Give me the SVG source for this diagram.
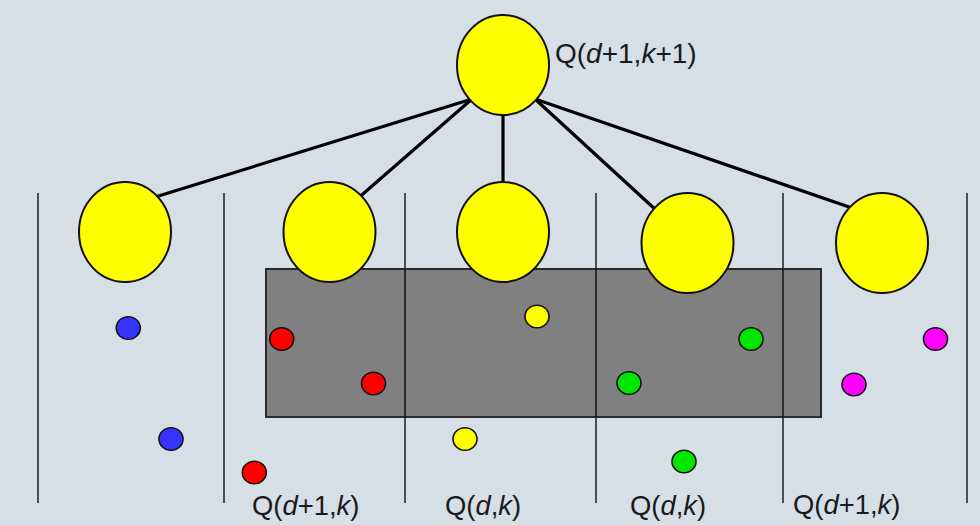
<svg xmlns="http://www.w3.org/2000/svg" width="980" height="525" viewBox="0 0 980 525">
  <style>
    .big { fill: #ffff00; stroke: #111; stroke-width: 2; }
    .dot { stroke: #111; stroke-width: 1.6; }
    .blue { fill: #3535ff; }
    .red { fill: #ff0000; }
    .yel { fill: #ffff00; }
    .grn { fill: #00e600; }
    .mag { fill: #ff00ff; }
    .sep { stroke: #000; stroke-width: 1.3; }
    .edge { stroke: #000; stroke-width: 3.2; stroke-linecap: round; fill: none; }
    .lbl { font-family: "Liberation Sans", Arial, sans-serif; font-size: 27.4px; fill: #1a1a1a; }
    .it { font-style: italic; }
  </style>

  <rect x="0" y="0" width="980" height="525" fill="#d6dfe6"/>

  <!-- column separators -->
  <g id="separators">
    <line class="sep" x1="38" y1="193" x2="38" y2="503"/>
    <line class="sep" x1="224" y1="193" x2="224" y2="503"/>
    <line class="sep" x1="405" y1="193" x2="405" y2="503"/>
    <line class="sep" x1="596" y1="193" x2="596" y2="503"/>
    <line class="sep" x1="783" y1="193" x2="783" y2="503"/>
    <line class="sep" x1="967" y1="193" x2="967" y2="503"/>
  </g>

  <!-- shaded query band -->
  <rect id="band" x="266" y="269" width="555" height="148" fill="#808080" stroke="#2a2a2a" stroke-width="2"/>
  <!-- separators remain visible across the band -->
  <g id="separators-over">
    <line class="sep" x1="405" y1="269" x2="405" y2="417"/>
    <line class="sep" x1="596" y1="269" x2="596" y2="417"/>
    <line class="sep" x1="783" y1="269" x2="783" y2="417"/>
  </g>

  <!-- tree edges -->
  <g id="connectors">
    <line class="edge" x1="472" y1="99" x2="152" y2="198"/>
    <line class="edge" x1="472" y1="99" x2="356" y2="200"/>
    <line class="edge" x1="503" y1="110" x2="503" y2="186"/>
    <line class="edge" x1="535" y1="99" x2="657" y2="211"/>
    <line class="edge" x1="535" y1="99" x2="852" y2="208"/>
  </g>

  <!-- root node -->
  <g id="root">
    <ellipse class="big" cx="503" cy="65" rx="46" ry="50"/>
    <text class="lbl" x="555" y="63" style="font-size:28px">Q(<tspan class="it">d</tspan>+1,<tspan class="it">k</tspan>+1)</text>
  </g>

  <!-- child nodes -->
  <g id="child1"><ellipse class="big" cx="125" cy="232" rx="46" ry="50"/></g>
  <g id="child2"><ellipse class="big" cx="329.5" cy="232" rx="46" ry="50"/></g>
  <g id="child3"><ellipse class="big" cx="503" cy="232" rx="46" ry="50"/></g>
  <g id="child4"><ellipse class="big" cx="687.5" cy="243" rx="46" ry="50"/></g>
  <g id="child5"><ellipse class="big" cx="882" cy="243" rx="46" ry="50"/></g>

  <!-- points -->
  <g id="points">
    <ellipse class="dot blue" cx="128.3" cy="328" rx="12" ry="11.3"/>
    <ellipse class="dot blue" cx="171" cy="439" rx="12" ry="11.3"/>
    <ellipse class="dot red" cx="281.7" cy="339" rx="12" ry="11.3"/>
    <ellipse class="dot red" cx="373.5" cy="383.5" rx="12" ry="11.3"/>
    <ellipse class="dot red" cx="254.3" cy="472.5" rx="12" ry="11.3"/>
    <ellipse class="dot yel" cx="537" cy="316.5" rx="12" ry="11.3"/>
    <ellipse class="dot yel" cx="465" cy="439" rx="12" ry="11.3"/>
    <ellipse class="dot grn" cx="751" cy="339" rx="12" ry="11.3"/>
    <ellipse class="dot grn" cx="629" cy="383" rx="12" ry="11.3"/>
    <ellipse class="dot grn" cx="684" cy="461.5" rx="12" ry="11.3"/>
    <ellipse class="dot mag" cx="935.5" cy="339" rx="12" ry="11.3"/>
    <ellipse class="dot mag" cx="854" cy="384.5" rx="12" ry="11.3"/>
  </g>

  <!-- column labels -->
  <g id="labels">
    <text class="lbl" x="252" y="515">Q(<tspan class="it">d</tspan>+1,<tspan class="it">k</tspan>)</text>
    <text class="lbl" x="445" y="515">Q(<tspan class="it">d</tspan>,<tspan class="it">k</tspan>)</text>
    <text class="lbl" x="630" y="515">Q(<tspan class="it">d</tspan>,<tspan class="it">k</tspan>)</text>
    <text class="lbl" x="793" y="514">Q(<tspan class="it">d</tspan>+1,<tspan class="it">k</tspan>)</text>
  </g>
</svg>
